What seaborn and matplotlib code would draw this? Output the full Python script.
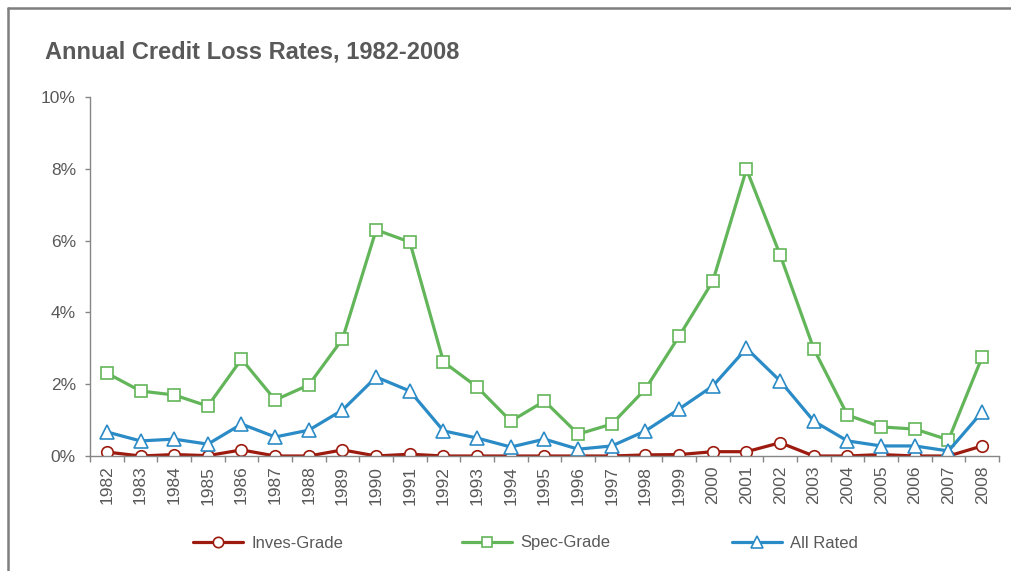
import matplotlib
matplotlib.use("Agg")
import matplotlib.pyplot as plt
import seaborn as sns
import pandas as pd
from matplotlib.lines import Line2D
from matplotlib.ticker import FuncFormatter, MultipleLocator, FixedLocator

years = [str(y) for y in range(1982, 2009)]
inves_grade = [0.11, 0.00, 0.04, 0.01, 0.17, 0.00, 0.00, 0.17, 0.00, 0.05,
               0.00, 0.00, 0.00, 0.00, 0.00, 0.00, 0.03, 0.04, 0.12, 0.12,
               0.37, 0.00, 0.00, 0.04, 0.00, 0.00, 0.28]
spec_grade = [2.31, 1.81, 1.70, 1.39, 2.70, 1.56, 1.98, 3.26, 6.30, 5.96,
              2.62, 1.92, 0.97, 1.53, 0.61, 0.89, 1.87, 3.34, 4.87, 7.99,
              5.60, 2.98, 1.14, 0.81, 0.75, 0.45, 2.76]
all_rated = [0.67, 0.42, 0.47, 0.33, 0.89, 0.53, 0.72, 1.28, 2.20, 1.81,
             0.70, 0.50, 0.25, 0.47, 0.19, 0.28, 0.70, 1.31, 1.95, 3.00,
             2.09, 0.97, 0.42, 0.28, 0.28, 0.14, 1.23]
series_names = ["Inves-Grade", "Spec-Grade", "All Rated"]
title = "Annual Credit Loss Rates, 1982-2008"

sns.set_theme(style="white")
plt.rcParams["font.family"] = ["Liberation Sans", "DejaVu Sans"]

TXT = "#595959"
AX = "#868686"
colors = ["#9c1a0e", "#63b55a", "#2b8bc6"]
markers = ["o", "s", "^"]
msizes = [8.3, 8.6, 10.2]

fig = plt.figure(figsize=(10.11, 5.71), dpi=100)
ax = fig.add_axes([90 / 1011, 115 / 571, (999 - 90) / 1011, (474 - 115) / 571])

values = [inves_grade, spec_grade, all_rated]
for name, vals, c, m, ms in zip(series_names, values, colors, markers, msizes):
    df = pd.DataFrame({"Year": years, "Rate": vals})
    sns.lineplot(data=df, x="Year", y="Rate", ax=ax, color=c, linewidth=2.3,
                 marker=m, markersize=ms, markerfacecolor="white",
                 markeredgecolor=c, markeredgewidth=1.2, legend=False,
                 sort=False)

ax.set_xlim(-0.5, len(years) - 0.5)
ax.set_ylim(0, 10)
ax.yaxis.set_major_locator(MultipleLocator(2))
ax.yaxis.set_major_formatter(FuncFormatter(lambda v, p: f"{v:.0f}%"))
ax.set_xticks(range(len(years)))
ax.set_xticklabels(years, rotation=90)
ax.xaxis.set_minor_locator(FixedLocator([i - 0.5 for i in range(len(years) + 1)]))
ax.tick_params(axis="x", which="major", length=0, pad=7, labelsize=12.5, labelcolor=TXT)
ax.tick_params(axis="x", which="minor", length=4.5, width=1, color=AX, direction="out", bottom=True)
ax.tick_params(axis="y", which="major", length=3.6, width=1, color=AX, direction="out",
               left=True, labelsize=12.5, labelcolor=TXT, pad=6.5)
ax.set_xlabel("")
ax.set_ylabel("")
for s in ["top", "right"]:
    ax.spines[s].set_visible(False)
for s in ["left", "bottom"]:
    ax.spines[s].set_color(AX)
    ax.spines[s].set_linewidth(1)
ax.grid(False)

fig.text(45 / 1011, 1 - 52 / 571, title, fontsize=17, fontweight="bold",
         color=TXT, va="center", ha="left")

# legend entries, spaced evenly like the original
xs = [193, 462, 732]
for x, name, c, m, ms in zip(xs, series_names, colors, markers, msizes):
    h = Line2D([], [], color=c, linewidth=2.3, marker=m, markersize=ms * 0.9,
               markerfacecolor="white", markeredgecolor=c, markeredgewidth=1.2)
    leg = fig.legend([h], [name], loc="center left",
                     bbox_to_anchor=(x / 1011, 1 - 543 / 571), frameon=False,
                     fontsize=12, handlelength=3.0, handletextpad=0.5,
                     borderpad=0, borderaxespad=0, labelcolor=TXT)

# outer frame (left and top edges visible)
fig.add_artist(Line2D([8 / 1011, 8 / 1011], [0, 1 - 8 / 571], transform=fig.transFigure,
                      color="#7f7f7f", linewidth=1.8))
fig.add_artist(Line2D([8 / 1011, 1], [1 - 8 / 571, 1 - 8 / 571], transform=fig.transFigure,
                      color="#7f7f7f", linewidth=1.8))

fig.savefig("out.png", dpi=100, facecolor="white")
